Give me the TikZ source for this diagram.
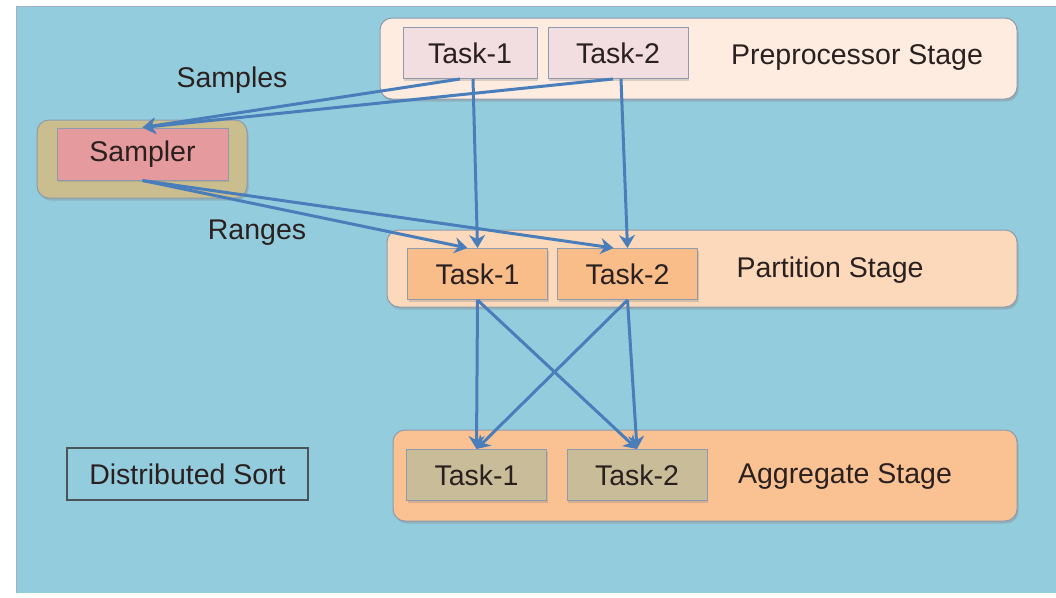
\documentclass[tikz,border=0pt]{standalone}
\usepackage{fontspec}
\setmainfont{Liberation Sans}
\usetikzlibrary{arrows.meta, shadows}

\definecolor{bgblue}{HTML}{93CDDD}
\definecolor{prefill}{HTML}{FDECDF}
\definecolor{pretask}{HTML}{F2DDE0}
\definecolor{partfill}{HTML}{FCD9BA}
\definecolor{parttask}{HTML}{F9BD8A}
\definecolor{aggfill}{HTML}{FAC293}
\definecolor{aggtask}{HTML}{C9BD99}
\definecolor{samplerbg}{HTML}{CBBE8E}
\definecolor{samplerfill}{HTML}{E59A9D}
\definecolor{flowblue}{HTML}{4A7EBB}
\definecolor{edgegray}{HTML}{8E9AAE}
\definecolor{textdark}{HTML}{2A2020}

\begin{document}
\begin{tikzpicture}[x=1pt, y=-1pt,
    font=\fontsize{28.5}{33}\selectfont, text=textdark,
    stagebox/.style={draw=edgegray, line width=1pt, rounded corners=12pt,
        drop shadow={shadow xshift=1.5pt, shadow yshift=-2.5pt, opacity=0.35}},
    taskbox/.style={draw=edgegray, line width=1pt, minimum width=140pt, minimum height=51pt,
        inner sep=0pt, drop shadow={shadow xshift=1pt, shadow yshift=-2pt, opacity=0.3}},
    flow/.style={draw=flowblue, line width=3pt, -{Stealth[length=13pt, width=16pt]}}]
    \useasboundingbox (0,0) rectangle (1056,597);
    \fill[bgblue] (16,6) rectangle (1056,593);
    \draw[edgegray!80, line width=1pt] (16,593) -- (16,6) -- (1056,6);

    % Stages
    \node[stagebox, fill=prefill, minimum width=637pt, minimum height=81pt] (prestage) at (698.5,58.5) {};
    \node[stagebox, fill=partfill, minimum width=630pt, minimum height=77pt] (partstage) at (702,268.5) {};
    \node[stagebox, fill=aggfill, minimum width=624pt, minimum height=91pt] (aggstage) at (705,475.5) {};
    \node[stagebox, fill=samplerbg, minimum width=210pt, minimum height=78pt] (samplerstage) at (142,159) {};

    % Tasks
    \node[taskbox, fill=pretask, minimum width=134pt] (pre1) at (470,53) {Task-1};
    \node[taskbox, fill=pretask] (pre2) at (618,53) {Task-2};
    \node[taskbox, fill=parttask] (part1) at (477.5,274) {Task-1};
    \node[taskbox, fill=parttask] (part2) at (627.5,274) {Task-2};
    \node[taskbox, fill=aggtask] (agg1) at (476.5,475) {Task-1};
    \node[taskbox, fill=aggtask] (agg2) at (637,475) {Task-2};
    \node[taskbox, fill=samplerfill, minimum width=171pt, minimum height=52pt] (sampler) at (142.5,154) {Sampler};

    % Labels
    \node (prelabel) at (857,58) {Preprocessor Stage};
    \node (partlabel) at (830,270) {Partition Stage};
    \node (agglabel) at (845,476) {Aggregate Stage};
    \node (samples) at (232,80) {Samples};
    \node (ranges) at (257,233) {Ranges};
    \node[draw=textdark!70!bgblue, line width=1.5pt, minimum width=241pt, minimum height=52pt,
        inner sep=0pt] (title) at (187.5,474) {Distributed Sort};

    % Connections
    \draw[flow] ([xshift=-10pt]pre1.south) -- (sampler.north);
    \draw[flow] ([xshift=-5pt]pre2.south) -- (sampler.north);
    \draw[flow] (sampler.south) -- ([xshift=-10pt]part1.north);
    \draw[flow] (sampler.south) -- ([xshift=-14pt]part2.north);

    \foreach \i in {1,2}
        \draw[flow] ([xshift=3pt]pre\i.south) -- (part\i.north);

    \foreach \i in {1,2}
        \foreach \j in {1,2}
            \draw[flow] (part\i.south) -- (agg\j.north);
\end{tikzpicture}
\end{document}
